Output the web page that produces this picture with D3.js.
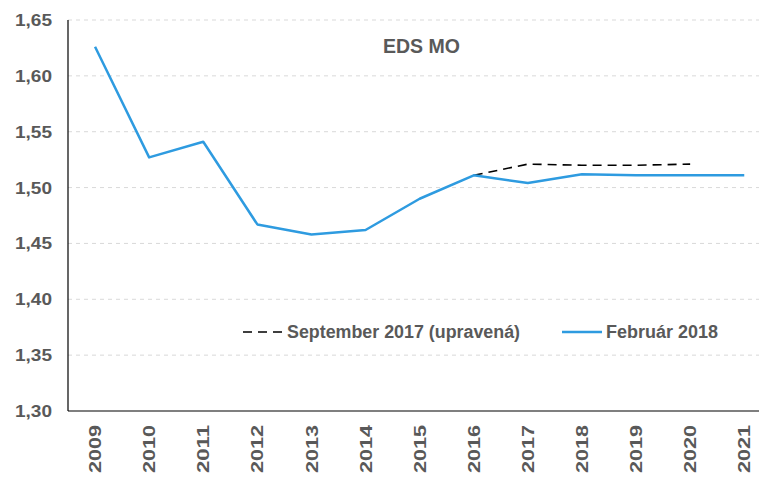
<!DOCTYPE html>
<html>
<head>
<meta charset="utf-8">
<script src="https://cdn.jsdelivr.net/npm/d3@7"></script>
<style>
  body { margin: 0; background: #fff; }
  text { font-family: "Liberation Sans", Arial, sans-serif; font-weight: bold; fill: #595959; }
</style>
</head>
<body>
<svg width="759" height="477"></svg>
<script>
var years = ["2009","2010","2011","2012","2013","2014","2015","2016","2017","2018","2019","2020","2021"];
var feb2018 = [1.626, 1.527, 1.541, 1.467, 1.458, 1.462, 1.490, 1.511, 1.504, 1.512, 1.511, 1.511, 1.511];
var sep2017 = [null, null, null, null, null, null, null, 1.511, 1.521, 1.520, 1.520, 1.521, null];
var yTicks = [1.30, 1.35, 1.40, 1.45, 1.50, 1.55, 1.60, 1.65];
var legendLabels = ["September 2017 (upravená)", "Február 2018"];

var svg = d3.select("svg"),
    width = +svg.attr("width"),
    height = +svg.attr("height");

var margin = {left: 68, top: 20, bottom: 66};
var bandW = 54.1;

var x = d3.scaleBand()
    .domain(years)
    .range([margin.left, margin.left + bandW * years.length]);

var y = d3.scaleLinear()
    .domain([1.30, 1.65])
    .range([height - margin.bottom, margin.top]);

var fmt = function(d) { return d3.format(".2f")(d).replace(".", ","); };

// gridlines
svg.append("g")
  .selectAll("line")
  .data(yTicks.slice(1))
  .enter().append("line")
    .attr("x1", margin.left)
    .attr("x2", width)
    .attr("y1", function(d) { return y(d); })
    .attr("y2", function(d) { return y(d); })
    .attr("stroke", "#d9d9d9")
    .attr("stroke-width", 1)
    .attr("stroke-dasharray", "4,4");

// y axis labels
svg.append("g")
  .selectAll("text")
  .data(yTicks)
  .enter().append("text")
    .attr("x", 52)
    .attr("y", function(d) { return y(d); })
    .attr("dy", "0.35em")
    .attr("text-anchor", "end")
    .attr("font-size", 17)
    .attr("textLength", 37)
    .attr("lengthAdjust", "spacingAndGlyphs")
    .text(fmt);

// x axis labels (rotated)
svg.append("g")
  .selectAll("text")
  .data(years)
  .enter().append("text")
    .attr("transform", function(d) {
      return "translate(" + (x(d) + x.bandwidth() / 2) + "," + (y(1.30) + 14) + ") rotate(-90)";
    })
    .attr("dy", "0.36em")
    .attr("text-anchor", "end")
    .attr("font-size", 17)
    .attr("textLength", 48)
    .attr("lengthAdjust", "spacingAndGlyphs")
    .text(function(d) { return d; });

// axis lines
svg.append("line")
    .attr("x1", margin.left).attr("x2", margin.left)
    .attr("y1", y(1.65)).attr("y2", y(1.30))
    .attr("stroke", "#000").attr("stroke-width", 1.2);
svg.append("line")
    .attr("x1", margin.left).attr("x2", width)
    .attr("y1", y(1.30)).attr("y2", y(1.30))
    .attr("stroke", "#000").attr("stroke-width", 1.2);

var line = d3.line()
    .defined(function(d) { return d != null; })
    .x(function(d, i) { return x(years[i]) + x.bandwidth() / 2; })
    .y(function(d) { return y(d); });

svg.append("path")
    .datum(sep2017)
    .attr("fill", "none")
    .attr("stroke", "#000")
    .attr("stroke-width", 1.6)
    .attr("stroke-dasharray", "9,6")
    .attr("d", line);

svg.append("path")
    .datum(feb2018)
    .attr("fill", "none")
    .attr("stroke", "#2e9be0")
    .attr("stroke-width", 2.5)
    .attr("stroke-linejoin", "round")
    .attr("d", line);

// title
svg.append("text")
    .attr("x", 383)
    .attr("y", 53)
    .attr("font-size", 21)
    .attr("textLength", 77)
    .attr("lengthAdjust", "spacingAndGlyphs")
    .text("EDS MO");

// legend
var legY = 332;
svg.append("line")
    .attr("x1", 243).attr("x2", 284)
    .attr("y1", legY).attr("y2", legY)
    .attr("stroke", "#000").attr("stroke-width", 1.6)
    .attr("stroke-dasharray", "9,6");
svg.append("text")
    .attr("x", 287).attr("y", legY).attr("dy", "0.35em")
    .attr("font-size", 18)
    .attr("textLength", 233)
    .attr("lengthAdjust", "spacingAndGlyphs")
    .text(legendLabels[0]);
svg.append("line")
    .attr("x1", 562).attr("x2", 602)
    .attr("y1", legY).attr("y2", legY)
    .attr("stroke", "#2e9be0").attr("stroke-width", 2.5);
svg.append("text")
    .attr("x", 606).attr("y", legY).attr("dy", "0.35em")
    .attr("font-size", 18)
    .attr("textLength", 112)
    .attr("lengthAdjust", "spacingAndGlyphs")
    .text(legendLabels[1]);
</script>
</body>
</html>
